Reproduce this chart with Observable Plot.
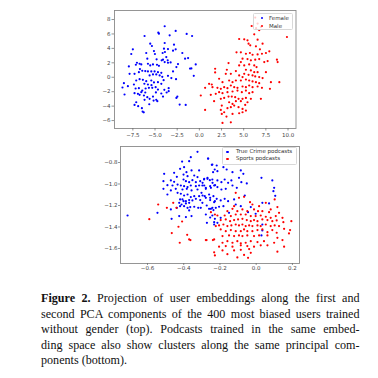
<!DOCTYPE html>
<html>
<head>
<meta charset="utf-8">
<script src="https://cdn.jsdelivr.net/npm/d3@7"></script>
<script src="https://cdn.jsdelivr.net/npm/@observablehq/plot@0.6"></script>
<style>
  html, body { margin: 0; padding: 0; background: #fff; }
  body { width: 378px; height: 378px; position: relative; overflow: hidden; }
  .chart { position: absolute; left: 0; }
  .legend { position: absolute; background: rgba(255,255,255,0.8); border: 1px solid #d8d8d8; border-radius: 1.5px; box-sizing: border-box; font-family: "DejaVu Sans", sans-serif; font-size: 5.5px; color: #333; z-index: 2; }
  .legend .row { position: absolute; left: 0; right: 0; height: 7px; line-height: 7px; white-space: nowrap; }
  .legend .dot { position: absolute; width: 2.2px; height: 2.2px; border-radius: 50%; top: 2.4px; }
  .legend .lab { position: absolute; top: 0; }
  #caption { position: absolute; left: 41px; top: 291px; width: 318.5px; font-family: "Liberation Serif", "Times New Roman", serif; font-size: 12.1px; line-height: 15.5px; color: #111; }
  #caption .ln { text-align: justify; text-align-last: justify; white-space: nowrap; }
  #caption .ln.last { text-align-last: left; }
</style>
</head>
<body>
<div id="top" class="chart" style="top:0px"></div>
<div id="bottom" class="chart" style="top:140px"></div>
<div id="caption"></div>
<script>
// ---------- data ----------
const topSeries = ["Female", "Male"];
const bottomSeries = ["True Crime podcasts", "Sports podcasts"];
const seriesColors = ["#0000ff", "#ff0000"];

const topXTicks = [-7.5, -5.0, -2.5, 0.0, 2.5, 5.0, 7.5, 10.0];
const topYTicks = [-6, -4, -2, 0, 2, 4, 6, 8];
const bottomXTicks = [-0.6, -0.4, -0.2, 0.0, 0.2];
const bottomYTicks = [-1.6, -1.4, -1.2, -1.0, -0.8];

const female = [[-3.91,7.07],[-4.63,6.18],[-4.56,6.04],[-6.18,5.72],[-2.67,6.42],[-1.43,6.00],[-0.82,5.72],[-3.35,5.81],[-5.54,4.65],[-5.35,4.33],[-3.91,4.75],[-2.86,4.52],[-3.99,3.96],[-3.54,3.91],[-2.67,3.87],[-7.50,3.87],[-7.68,3.22],[-5.99,3.36],[-5.12,3.63],[-5.01,3.22],[-4.14,3.36],[-3.88,3.50],[-3.73,2.80],[-2.97,3.68],[-1.92,3.36],[-1.61,2.57],[-1.27,2.66],[-0.41,1.78],[-5.87,2.57],[-4.10,2.43],[-4.82,2.48],[-4.25,2.34],[-3.57,2.34],[-3.54,2.01],[-7.04,2.01],[-6.74,1.87],[-6.55,1.78],[-7.95,1.50],[-7.16,1.73],[-6.70,1.13],[-5.80,1.87],[-5.54,1.64],[-5.23,1.78],[-4.78,1.73],[-4.56,1.59],[-3.91,2.10],[-3.24,2.06],[-2.41,1.83],[-2.59,1.41],[-2.97,0.81],[-0.90,1.22],[-1.05,1.20],[-0.63,0.20],[-6.44,0.90],[-6.10,0.85],[-5.80,0.81],[-5.42,0.81],[-5.05,0.81],[-4.67,0.71],[-4.29,0.62],[-6.82,0.71],[-7.31,0.48],[-7.87,0.48],[-5.61,0.25],[-5.23,0.39],[-4.86,0.39],[-4.48,0.25],[-4.18,0.06],[-3.54,0.20],[-3.16,-0.12],[-2.63,-0.26],[-4.03,-0.40],[-8.51,-0.82],[-8.06,-1.23],[-8.67,-1.42],[-7.38,-1.00],[-7.12,-0.45],[-6.74,-0.26],[-6.37,-0.35],[-5.99,-0.54],[-5.42,-0.45],[-5.12,-0.72],[-4.67,-0.68],[-4.29,-0.91],[-7.19,-1.56],[-6.82,-1.51],[-6.44,-1.84],[-6.06,-1.56],[-5.69,-1.47],[-5.31,-1.47],[-4.93,-1.37],[-4.67,-1.70],[-3.95,-1.74],[-3.46,-1.51],[-3.46,-1.93],[-8.44,-2.39],[-7.31,-2.21],[-6.74,-2.44],[-6.25,-2.53],[-5.87,-2.76],[-5.61,-2.99],[-5.23,-2.67],[-4.86,-3.13],[-4.10,-2.67],[-4.29,-2.25],[-3.69,-2.11],[-2.59,-2.86],[-2.48,-2.67],[-7.12,-3.46],[-6.18,-3.13],[-7.31,-3.83],[-6.48,-4.29],[-6.40,-4.76],[-5.65,-3.74],[-2.22,-3.78],[-1.54,-3.83],[-5.16,-3.23],[-4.74,-3.32],[-6.93,-2.30],[-6.55,-2.07],[-6.10,-2.11],[-6.27,-4.86],[-6.90,-4.00],[-5.80,-1.00],[-5.40,-1.10],[-6.20,-0.90],[-4.90,-2.10]];

const male = [[6.19,5.95],[6.75,6.51],[6.57,5.21],[7.13,4.65],[9.88,5.58],[4.49,5.30],[5.06,5.26],[5.43,5.12],[5.55,4.65],[5.74,4.42],[6.38,4.28],[6.83,3.87],[4.19,3.45],[4.68,3.45],[5.25,3.26],[5.70,3.36],[6.00,3.12],[6.57,3.17],[7.06,3.26],[7.51,3.36],[7.89,3.59],[4.87,2.57],[5.43,2.52],[5.81,2.34],[6.30,2.43],[6.75,2.52],[7.32,2.10],[7.70,2.24],[8.75,2.43],[8.83,2.10],[3.29,1.97],[4.68,2.10],[4.49,1.64],[5.06,1.64],[5.62,1.78],[6.19,1.64],[6.45,1.41],[1.78,1.18],[3.10,1.04],[1.78,0.67],[2.98,0.48],[3.55,0.48],[4.12,0.85],[5.25,1.04],[5.81,0.94],[6.19,0.71],[6.57,0.71],[7.51,0.71],[5.06,0.48],[5.55,0.34],[6.00,0.25],[6.30,0.11],[6.75,0.02],[7.13,-0.12],[4.49,0.25],[4.87,0.02],[1.10,-0.91],[1.40,-1.00],[2.23,-0.21],[2.61,-0.68],[3.36,-0.45],[3.74,-0.68],[4.12,-0.45],[4.68,-0.45],[5.25,-0.31],[5.62,-0.45],[6.00,-0.58],[6.38,-0.68],[6.75,-0.82],[8.07,-0.68],[9.02,-0.68],[0.65,-1.47],[1.48,-1.37],[2.04,-1.47],[2.42,-1.60],[2.80,-1.37],[3.17,-1.51],[3.55,-1.14],[3.93,-1.37],[4.30,-1.47],[4.87,-1.28],[5.25,-1.37],[5.62,-1.14],[6.00,-1.37],[6.57,-1.28],[7.06,-1.47],[7.96,-1.60],[0.16,-2.53],[1.29,-2.44],[1.85,-2.30],[2.23,-2.07],[2.61,-2.21],[3.17,-2.07],[3.74,-1.97],[4.30,-1.84],[4.79,-2.07],[5.25,-1.84],[5.62,-2.21],[6.00,-2.07],[1.66,-3.32],[2.42,-2.99],[2.80,-2.86],[3.29,-2.67],[3.66,-2.67],[4.04,-2.76],[4.42,-2.99],[4.87,-2.99],[5.25,-2.86],[5.81,-2.99],[3.36,-3.46],[3.74,-3.69],[4.12,-3.32],[4.68,-3.32],[5.43,-3.46],[6.94,-2.99],[2.53,-3.92],[3.17,-4.29],[3.55,-4.15],[3.93,-3.92],[4.42,-4.15],[4.87,-4.39],[5.17,-3.83],[0.65,-4.53],[2.42,-4.53],[2.80,-4.85],[2.53,-5.08],[3.74,-5.08],[4.49,-4.99],[4.87,-4.85],[5.25,-4.62],[2.61,-6.33],[3.55,-6.24],[3.06,-5.45],[6.30,8.27],[6.57,7.44],[6.94,6.97],[5.90,7.10],[6.40,6.80]];

const trueCrime = [[-0.324,-0.701],[-0.265,-0.763],[-0.361,-0.750],[-0.409,-0.791],[-0.370,-0.788],[-0.245,-0.822],[-0.398,-0.843],[-0.420,-0.859],[-0.357,-0.874],[-0.315,-0.874],[-0.385,-0.890],[-0.508,-0.905],[-0.453,-0.896],[-0.342,-0.921],[-0.238,-0.890],[-0.401,-0.912],[-0.438,-0.933],[-0.379,-0.927],[-0.324,-0.936],[-0.287,-0.952],[-0.269,-0.943],[-0.256,-0.964],[-0.471,-0.967],[-0.453,-0.980],[-0.512,-0.974],[-0.401,-0.958],[-0.388,-0.974],[-0.370,-0.983],[-0.352,-0.964],[-0.333,-0.983],[-0.309,-0.974],[-0.296,-0.989],[-0.241,-0.989],[-0.227,-1.011],[-0.490,-1.011],[-0.462,-1.014],[-0.434,-1.005],[-0.416,-1.014],[-0.398,-1.020],[-0.379,-1.029],[-0.361,-1.014],[-0.333,-1.020],[-0.315,-1.014],[-0.287,-1.014],[-0.512,-1.045],[-0.444,-1.045],[-0.407,-1.051],[-0.383,-1.045],[-0.357,-1.060],[-0.324,-1.051],[-0.278,-1.045],[-0.250,-1.036],[-0.471,-1.060],[-0.490,-1.098],[-0.434,-1.082],[-0.416,-1.091],[-0.398,-1.107],[-0.379,-1.098],[-0.361,-1.122],[-0.342,-1.113],[-0.315,-1.113],[-0.296,-1.107],[-0.278,-1.129],[-0.254,-1.129],[-0.228,-1.160],[-0.420,-1.144],[-0.407,-1.144],[-0.401,-1.160],[-0.388,-1.160],[-0.370,-1.150],[-0.352,-1.153],[-0.333,-1.138],[-0.309,-1.150],[-0.425,-1.175],[-0.412,-1.191],[-0.388,-1.181],[-0.370,-1.175],[-0.398,-1.206],[-0.420,-1.206],[-0.379,-1.222],[-0.364,-1.215],[-0.342,-1.212],[-0.320,-1.222],[-0.306,-1.222],[-0.438,-1.222],[-0.471,-1.237],[-0.250,-1.231],[-0.236,-1.243],[-0.370,-1.246],[-0.545,-1.268],[-0.710,-1.293],[-0.425,-1.299],[-0.388,-1.308],[-0.357,-1.299],[-0.467,-1.324],[-0.228,-1.324],[-0.254,-1.312],[-0.272,-1.361],[-0.232,-1.355],[-0.266,-0.763],[-0.242,-0.819],[-0.218,-0.828],[-0.229,-0.865],[-0.214,-0.881],[-0.181,-0.843],[-0.163,-0.865],[-0.085,-0.874],[-0.071,-0.905],[-0.131,-0.890],[-0.095,-0.943],[-0.082,-0.983],[-0.288,-0.958],[-0.269,-0.952],[-0.242,-0.958],[-0.214,-0.967],[-0.192,-0.983],[-0.174,-0.958],[-0.155,-0.989],[-0.137,-0.967],[-0.297,-1.014],[-0.278,-1.036],[-0.254,-1.020],[-0.232,-1.014],[-0.214,-1.029],[-0.192,-1.051],[-0.168,-1.045],[-0.131,-1.014],[-0.107,-1.036],[-0.052,-0.995],[0.029,-0.943],[0.089,-0.967],[0.095,-1.067],[0.099,-1.036],[0.105,-1.110],[-0.063,-1.107],[-0.302,-1.082],[-0.284,-1.113],[-0.260,-1.098],[-0.236,-1.113],[-0.218,-1.138],[-0.196,-1.153],[-0.174,-1.138],[-0.155,-1.160],[-0.122,-1.144],[-0.254,-1.150],[-0.232,-1.169],[-0.297,-1.175],[-0.273,-1.200],[-0.260,-1.231],[-0.242,-1.222],[-0.223,-1.222],[-0.205,-1.212],[-0.181,-1.206],[-0.113,-1.191],[-0.085,-1.206],[-0.030,-1.215],[-0.045,-1.262],[-0.003,-1.277],[-0.278,-1.284],[-0.242,-1.293],[-0.196,-1.315],[-0.150,-1.268],[0.034,-1.432],[0.029,-1.479],[0.034,-1.175],[0.071,-1.181],[-0.232,-1.377],[-0.214,-1.361],[0.034,-1.377]];

const sports = [[-0.541,-1.191],[-0.493,-1.222],[-0.458,-1.175],[-0.440,-1.222],[-0.590,-1.327],[-0.409,-1.349],[-0.429,-1.398],[-0.466,-1.457],[-0.381,-1.473],[-0.422,-1.547],[-0.363,-1.522],[-0.274,-1.522],[-0.239,-1.522],[-0.228,-1.665],[-0.250,-1.262],[-0.228,-1.284],[-0.370,-1.516],[-0.113,-1.082],[-0.095,-1.129],[-0.067,-1.119],[-0.034,-1.169],[-0.021,-1.191],[0.016,-1.206],[0.053,-1.175],[0.080,-1.237],[0.102,-1.144],[0.117,-1.215],[-0.122,-1.206],[-0.159,-1.253],[-0.131,-1.231],[-0.104,-1.253],[-0.076,-1.237],[-0.049,-1.253],[-0.012,-1.237],[0.010,-1.253],[0.034,-1.253],[0.071,-1.262],[0.126,-1.268],[-0.214,-1.293],[-0.174,-1.293],[-0.140,-1.299],[-0.113,-1.284],[-0.085,-1.284],[-0.058,-1.284],[-0.030,-1.299],[-0.003,-1.299],[0.025,-1.293],[0.053,-1.305],[0.080,-1.315],[0.108,-1.299],[0.145,-1.315],[-0.196,-1.336],[-0.168,-1.330],[-0.144,-1.346],[-0.122,-1.336],[-0.100,-1.330],[-0.076,-1.324],[-0.052,-1.336],[-0.030,-1.346],[-0.012,-1.336],[0.007,-1.346],[0.034,-1.330],[0.062,-1.336],[0.089,-1.346],[0.113,-1.339],[0.150,-1.355],[0.194,-1.346],[-0.223,-1.392],[-0.205,-1.386],[-0.181,-1.377],[-0.159,-1.392],[-0.137,-1.386],[-0.113,-1.377],[-0.095,-1.386],[-0.076,-1.377],[-0.058,-1.392],[-0.039,-1.386],[-0.021,-1.392],[0.007,-1.386],[0.025,-1.392],[0.053,-1.377],[0.080,-1.392],[0.102,-1.386],[0.126,-1.392],[0.154,-1.417],[-0.196,-1.423],[-0.168,-1.439],[-0.140,-1.429],[-0.113,-1.439],[-0.085,-1.439],[-0.067,-1.423],[-0.049,-1.439],[-0.021,-1.439],[0.007,-1.429],[0.034,-1.423],[0.062,-1.448],[0.089,-1.429],[0.113,-1.454],[0.181,-1.460],[0.187,-1.429],[-0.278,-1.522],[-0.232,-1.516],[-0.186,-1.485],[-0.150,-1.479],[-0.122,-1.485],[-0.095,-1.479],[-0.076,-1.485],[-0.049,-1.479],[-0.012,-1.485],[0.016,-1.479],[0.062,-1.479],[0.117,-1.501],[0.145,-1.522],[-0.186,-1.547],[-0.159,-1.532],[-0.131,-1.547],[-0.104,-1.532],[-0.085,-1.552],[-0.058,-1.547],[-0.030,-1.532],[0.007,-1.541],[0.043,-1.532],[0.099,-1.547],[-0.205,-1.583],[-0.168,-1.578],[-0.131,-1.583],[-0.085,-1.571],[-0.049,-1.578],[-0.012,-1.583],[0.025,-1.571],[0.062,-1.571],[0.154,-1.583],[-0.232,-1.636],[-0.186,-1.618],[-0.122,-1.618],[-0.085,-1.613],[-0.039,-1.606],[-0.159,-1.653],[-0.067,-1.660],[-0.030,-1.641],[0.117,-1.630],[-0.104,-1.683],[-0.045,-1.687]];

// ---------- drawing ----------
function rows(pairs, name) { return pairs.map(([x, y]) => ({x, y, series: name})); }

function scatter(el, cfg) {
  const data = [...rows(cfg.a, cfg.names[0]), ...rows(cfg.b, cfg.names[1])];
  const chart = Plot.plot({
    width: 378,
    height: cfg.height,
    marginLeft: cfg.ml, marginRight: cfg.mr, marginTop: cfg.mt, marginBottom: cfg.mb,
    style: {fontFamily: "DejaVu Sans, sans-serif", fontSize: "5.5px", color: "#444", background: "transparent", overflow: "visible"},
    x: {domain: cfg.xDomain, label: null},
    y: {domain: cfg.yDomain, label: null},
    color: {domain: cfg.names, range: seriesColors},
    marks: [
      Plot.dot(data, {x: "x", y: "y", fill: "series", r: 1.1, stroke: null}),
      Plot.frame({stroke: "#8a8a8a", strokeWidth: 0.9}),
      Plot.axisX({ticks: cfg.xTicks, tickFormat: cfg.fx, tickSize: cfg.tsx, tickPadding: cfg.tpx, label: null, stroke: "#666", strokeWidth: 0.7}),
      Plot.axisY({ticks: cfg.yTicks, tickFormat: cfg.fy, tickSize: cfg.tsy, tickPadding: cfg.tpy, label: null, stroke: "#666", strokeWidth: 0.7})
    ]
  });
  document.getElementById(el).appendChild(chart);
}

scatter("top", {
  a: female, b: male, names: topSeries,
  height: 142, ml: 114, mr: 82.5, mt: 10, mb: 14,
  xDomain: [-9.57, 10.9], yDomain: [-7.1, 9.25],
  xTicks: topXTicks, yTicks: topYTicks,
  fx: d3.format(".1f"), fy: d3.format("d"),
  tsx: 2.5, tpx: 2.5, tsy: 2.5, tpy: 1.5
});

scatter("bottom", {
  a: trueCrime, b: sports, names: bottomSeries,
  height: 137, ml: 120, mr: 79, mt: 6, mb: 14,
  xDomain: [-0.749, 0.239], yDomain: [-1.74, -0.651],
  xTicks: bottomXTicks, yTicks: bottomYTicks,
  fx: d3.format(".1f"), fy: d3.format(".1f"),
  tsx: 2, tpx: 1, tsy: 2, tpy: 1
});

// ---------- legends ----------
function legend(names, box) {
  const div = document.createElement("div");
  div.className = "legend";
  Object.assign(div.style, {left: box.left + "px", top: box.top + "px", width: box.w + "px", height: box.h + "px"});
  names.forEach((n, i) => {
    const row = document.createElement("div");
    row.className = "row";
    row.style.top = (box.row0 + i * box.dy - 3.5) + "px";
    const dot = document.createElement("span");
    dot.className = "dot";
    dot.style.left = (box.dotX - 1.1) + "px";
    dot.style.background = seriesColors[i];
    const lab = document.createElement("span");
    lab.className = "lab";
    lab.style.left = box.textX + "px";
    lab.textContent = n;
    row.appendChild(dot); row.appendChild(lab);
    div.appendChild(row);
  });
  document.body.appendChild(div);
}
legend(topSeries, {left: 253, top: 13, w: 40, h: 17, row0: 4.3, dy: 7.7, dotX: 7.7, textX: 15});
legend(bottomSeries, {left: 221.5, top: 146.5, w: 75.5, h: 18, row0: 4.2, dy: 7, dotX: 5, textX: 13.5});

// ---------- caption ----------
const captionBold = "Figure 2.";
const captionLines = [
  " Projection of user embeddings along the first and",
  "second PCA components of the 400 most biased users trained",
  "without gender (top). Podcasts trained in the same embed-",
  "ding space also show clusters along the same principal com-",
  "ponents (bottom)."
];
const cap = document.getElementById("caption");
captionLines.forEach((t, i) => {
  const ln = document.createElement("div");
  ln.className = "ln" + (i === captionLines.length - 1 ? " last" : "");
  if (i === 0) {
    const b = document.createElement("b");
    b.textContent = captionBold;
    ln.appendChild(b);
  }
  ln.appendChild(document.createTextNode(t));
  cap.appendChild(ln);
});
</script>
</body>
</html>
